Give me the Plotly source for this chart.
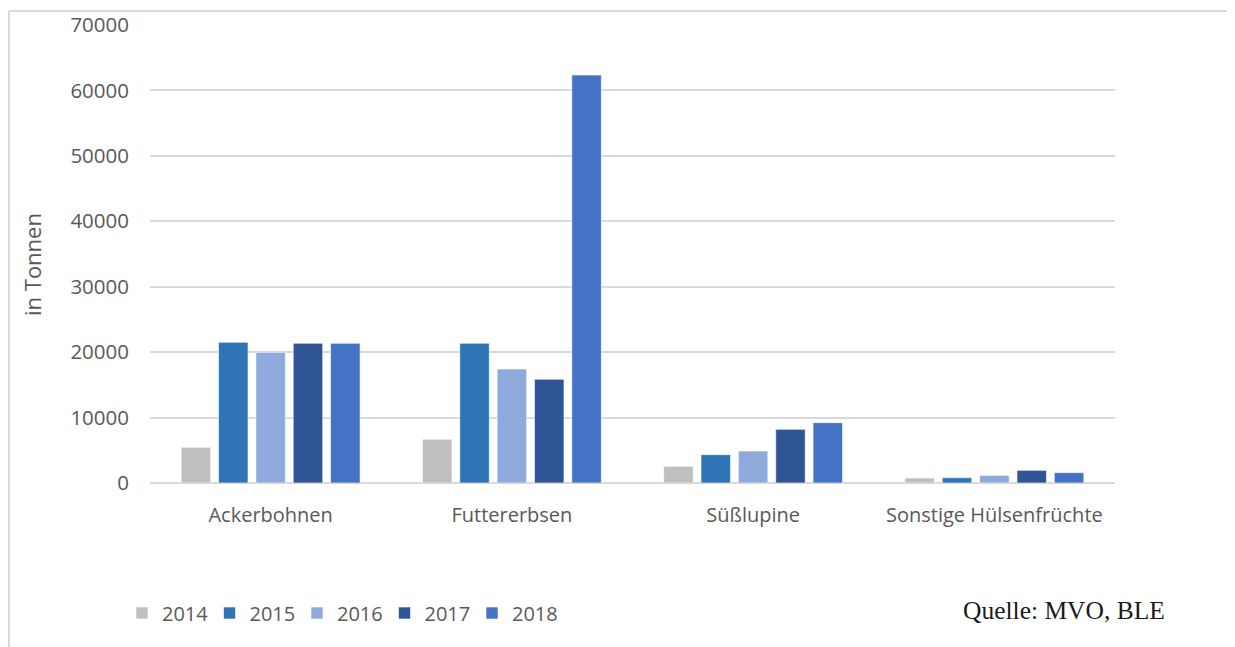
import plotly.graph_objects as go

categories = ["Ackerbohnen", "Futtererbsen", "Süßlupine", "Sonstige Hülsenfrüchte"]
years = ["2014", "2015", "2016", "2017", "2018"]
v2014 = [5450, 6680, 2550, 760]
v2015 = [21500, 21350, 4330, 810]
v2016 = [19970, 17420, 4890, 1170]
v2017 = [21350, 15850, 8200, 1940]
v2018 = [21350, 62350, 9220, 1580]
values = [v2014, v2015, v2016, v2017, v2018]
colors = ["#BFBFBF", "#2E75B6", "#8FAADC", "#2F5597", "#4472C4"]
y_ticks = [0, 10000, 20000, 30000, 40000, 50000, 60000, 70000]

OFF = 8  # page body margin
W, H = 1235 - OFF, 647 - OFF
L, R, T, B = 150 - OFF, 120, 25 - OFF, 164
pw, ph = W - L - R, H - T - B

def px(x):
    return (x - OFF - L) / pw

def py(y):
    return 1 - (y - OFF - T) / ph

fig = go.Figure()
for yr, vals, c in zip(years, values, colors):
    fig.add_trace(go.Bar(
        name=yr, x=categories, y=vals,
        marker=dict(color=c, line=dict(color="rgba(255,255,255,0.6)", width=1)),
    ))

font_family = "Open Sans, Liberation Sans, sans-serif"
fig.update_layout(
    width=W, height=H,
    margin=dict(l=L, r=R, t=T, b=B, autoexpand=False),
    paper_bgcolor="white", plot_bgcolor="white",
    barmode="group", bargap=0.226, bargroupgap=0.21,
    font=dict(family=font_family, size=20, color="#595959"),
    showlegend=True,
    legend=dict(orientation="h", x=px(122), y=py(613), yanchor="middle", xanchor="left",
                font=dict(size=20, color="#595959"), traceorder="normal",
                entrywidth=42.5, entrywidthmode="pixels", itemwidth=30),
    xaxis=dict(showgrid=False, showline=False, ticks="", ticklabelstandoff=18,
               automargin=False, tickfont=dict(size=20, color="#595959")),
    yaxis=dict(range=[0, 70000], tickvals=y_ticks, ticktext=[str(t) for t in y_ticks],
               showgrid=True, gridcolor="#D9D9D9", gridwidth=1.5,
               zeroline=True, zerolinecolor="#D9D9D9", zerolinewidth=2,
               showline=False, ticks="", ticklabelstandoff=20, automargin=False,
               tickfont=dict(size=20.5, color="#595959")),
    annotations=[
        dict(text="in Tonnen", x=px(32), y=py(265), xref="paper", yref="paper",
             textangle=-90, showarrow=False, xanchor="center", yanchor="middle",
             font=dict(size=22, color="#595959")),
        dict(text="Quelle: MVO, BLE", x=px(961), y=py(610), xref="paper", yref="paper",
             showarrow=False, xanchor="left", yanchor="middle",
             font=dict(family="Liberation Serif, Times New Roman, serif", size=25.5, color="#1A1A1A")),
    ],
    shapes=[
        dict(type="line", xref="paper", yref="paper", x0=px(9), x1=px(1240), y0=py(11), y1=py(11),
             line=dict(color="#D9D9D9", width=2)),
        dict(type="line", xref="paper", yref="paper", x0=px(9), x1=px(9), y0=py(11), y1=py(650),
             line=dict(color="#D9D9D9", width=2)),
    ],
)

fig.write_html("out.html")
